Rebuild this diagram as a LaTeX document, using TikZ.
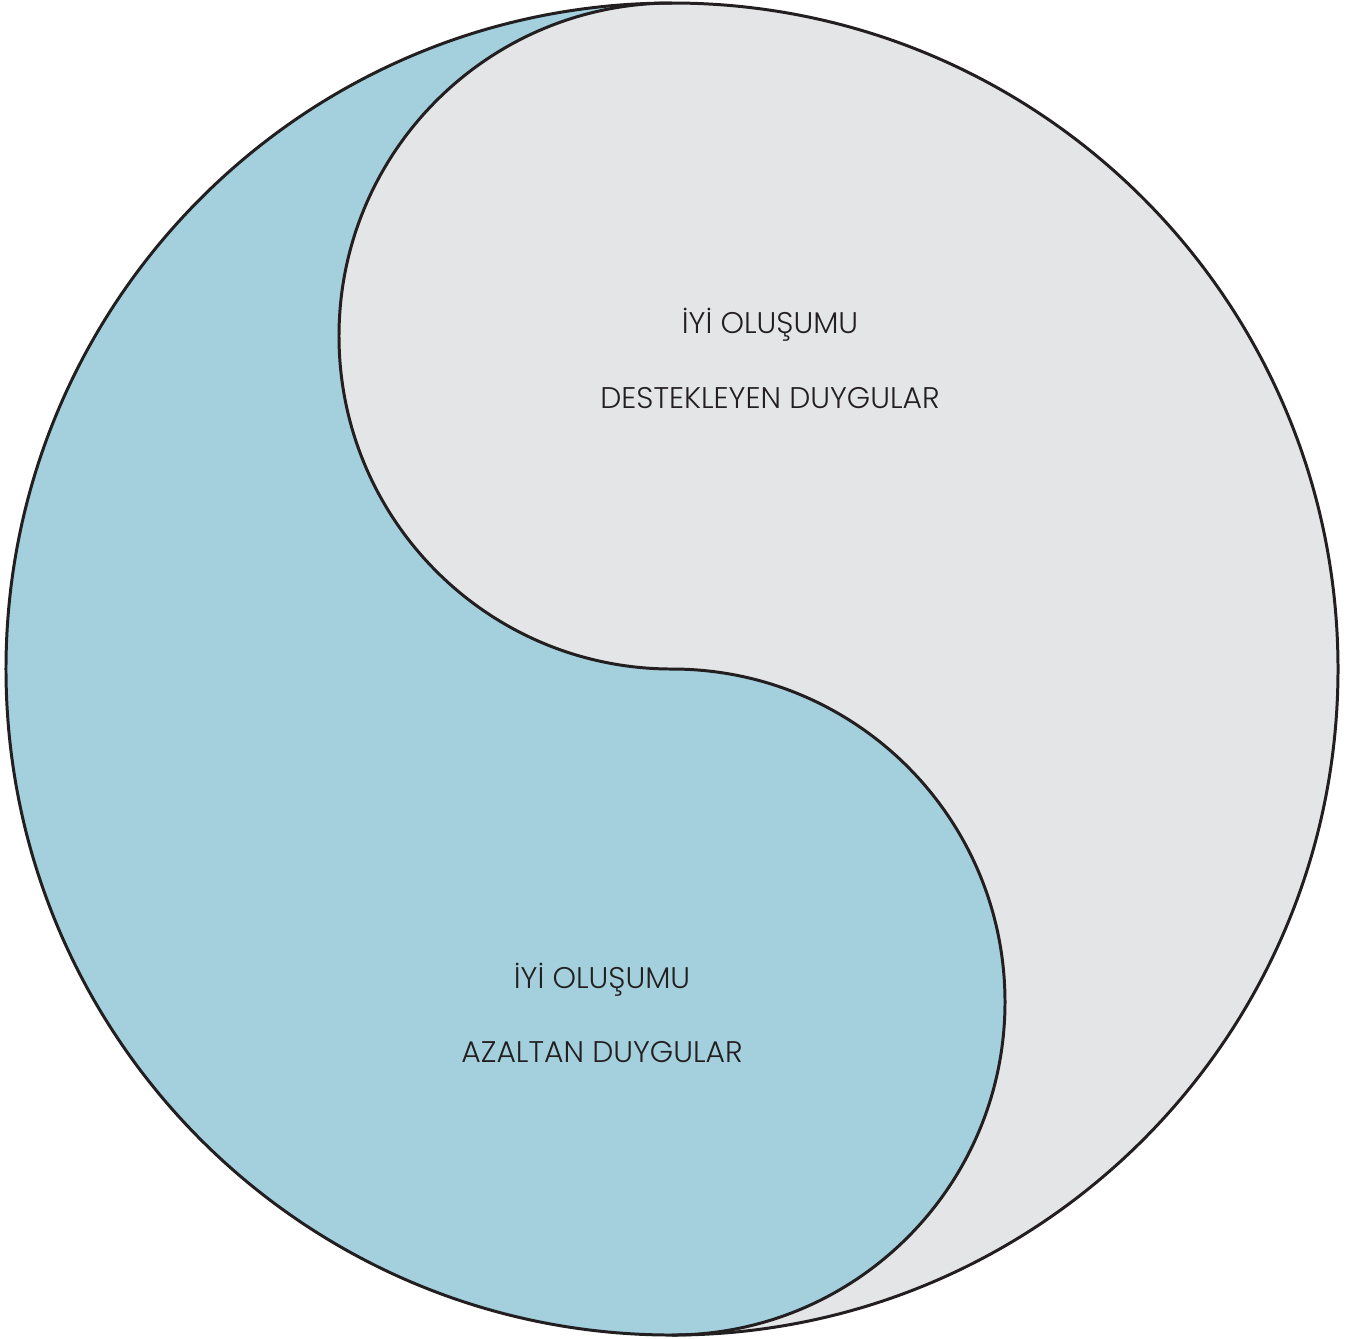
\documentclass[tikz,border=0pt]{standalone}
\usepackage{fontspec}
\setmainfont{Poppins}[UprightFont={* Light}]
\usepackage{tikz}
\usetikzlibrary{positioning}
\definecolor{lowblue}{RGB}{163,208,220}
\definecolor{highgrey}{RGB}{228,229,231}
\definecolor{outline}{RGB}{35,31,32}
\tikzset{
  yinline/.style={draw=outline,line width=0.85pt},
  caption/.style={anchor=base,inner sep=0pt,text=outline,font=\fontsize{8.5}{10}\selectfont}
}
\begin{document}
\begin{tikzpicture}
  \useasboundingbox (-6.72,-6.69) rectangle (6.86,6.69);
  % whole disc, blue half first
  \fill[lowblue] (0,0) circle (6.66);
  % grey half bounded by the S curve
  \fill[highgrey] (0,6.66) arc[start angle=90,end angle=270,radius=3.33]
    arc[start angle=90,end angle=-90,radius=3.33]
    arc[start angle=-90,end angle=90,radius=6.66] -- cycle;
  \draw[yinline] (0,6.66) arc[start angle=90,end angle=270,radius=3.33]
    arc[start angle=90,end angle=-90,radius=3.33];
  \draw[yinline] (0,0) circle (6.66);

  \node[caption] (up1) at (0.98,3.36) {İYİ OLUŞUMU};
  \node[caption] (up2) at (0.98,2.61) {DESTEKLEYEN DUYGULAR};
  \node[caption] (low1) at (-0.70,-3.19) {İYİ OLUŞUMU};
  \node[caption] (low2) at (-0.70,-3.93) {AZALTAN DUYGULAR};
\end{tikzpicture}
\end{document}
